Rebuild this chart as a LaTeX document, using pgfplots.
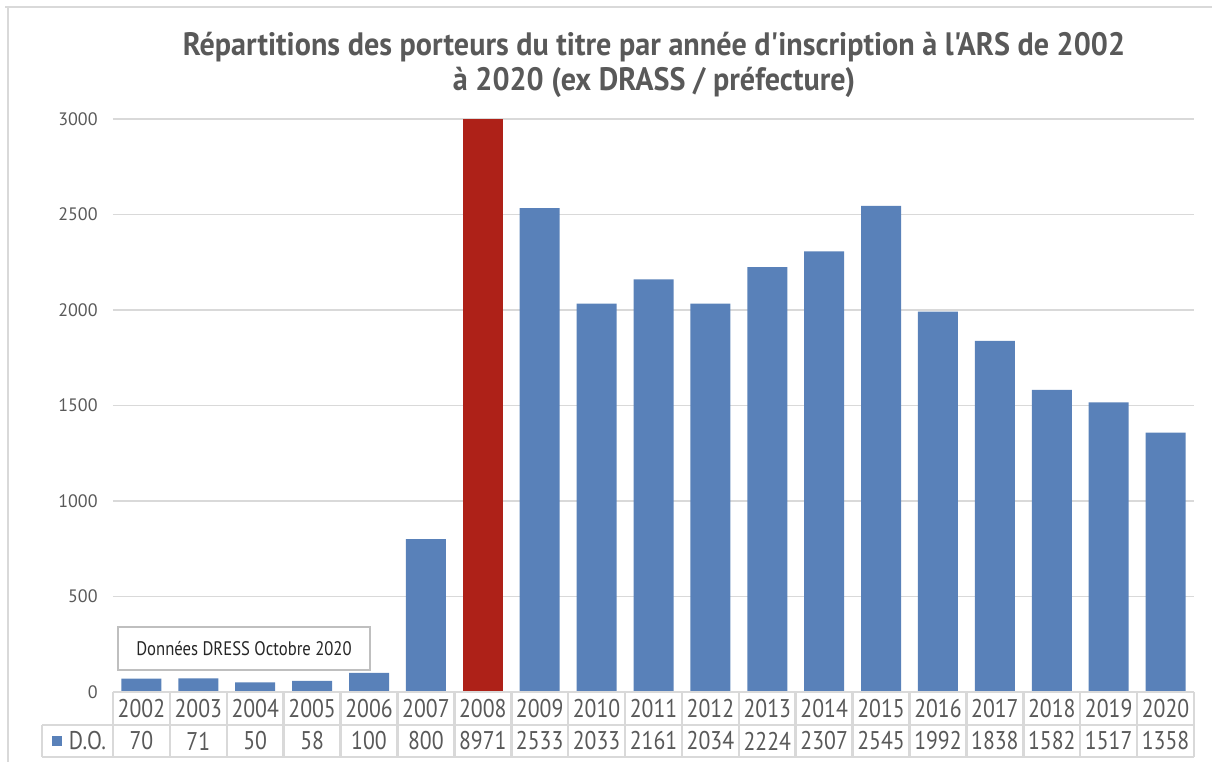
\documentclass[border=0pt]{standalone}
\usepackage{pgfplots}
\pgfplotsset{compat=1.18}
\usepackage{fontspec}
\setmainfont{PT Sans}
\newfontfamily\din{PT Sans}[FakeStretch=0.85]
\newfontfamily\dintitle{PT Sans}[FakeStretch=0.93]

\definecolor{barblue}{HTML}{5981B9}
\definecolor{barred}{HTML}{AE2118}
\definecolor{gridgray}{HTML}{D9D9D9}
\definecolor{txtgray}{HTML}{595959}
\definecolor{boxgray}{HTML}{BFBFBF}

\begin{document}
\begin{tikzpicture}
\path[use as bounding box] (0,0) rectangle (606pt,-381pt);
% chart frame (top and left only)
\draw[gridgray, line width=1.25pt] (2.5pt,-3.5pt) -- (606pt,-3.5pt);
\draw[gridgray, line width=1.25pt] (4pt,-3.5pt) -- (4pt,-381pt);

\begin{axis}[
  at={(56.5pt,-346pt)}, anchor=south west,
  width=540.5pt, height=286.5pt, scale only axis,
  ybar, bar width=20pt,
  xmin=-0.5, xmax=18.5, ymin=0, ymax=3000,
  ytick={0,500,...,3000},
  xtick={0,...,18},
  xticklabels={2002,2003,2004,2005,2006,2007,2008,2009,2010,2011,2012,2013,2014,2015,2016,2017,2018,2019,2020},
  extra x ticks={0,...,18},
  extra x tick labels={70,71,50,58,100,800,8971,2533,2033,2161,2034,2224,2307,2545,1992,1838,1582,1517,1358},
  extra x tick style={xticklabel style={yshift=-16.25pt}},
  xticklabel style={anchor=center, yshift=-8.25pt, inner sep=0pt,
    font=\din\fontsize{12.8}{14}\selectfont, text=txtgray},
  major tick length=0pt,
  ymajorgrids, grid style={gridgray, line width=0.75pt},
  axis line style={draw=none},
  yticklabel style={anchor=east, inner sep=0pt, xshift=-7.5pt,
    font=\fontsize{9}{10}\selectfont, text=txtgray},
  scaled y ticks=false,
  /pgf/number format/assume math mode=true,
  /pgf/number format/1000 sep={},
]
\addplot[fill=barblue, draw=none, bar shift=0pt] coordinates {
  (0,70) (1,71) (2,50) (3,58) (4,100) (5,800)
  (7,2533) (8,2033) (9,2161) (10,2034) (11,2224) (12,2307) (13,2545)
  (14,1992) (15,1838) (16,1582) (17,1517) (18,1358)};
\addplot[fill=barred, draw=none, bar shift=0pt] coordinates {(6,8971)};
\end{axis}

% data table grid
\begin{scope}[gridgray, line width=1.25pt]
\draw (56.5pt,-346pt) -- (597pt,-346pt);
\draw (21pt,-362.5pt) -- (597pt,-362.5pt);
\draw (21pt,-378.5pt) -- (597pt,-378.5pt);
\draw (21pt,-362.5pt) -- (21pt,-378.5pt);
\foreach \k in {0,...,19}
  \draw (56.5pt+\k*28.4474pt,-346pt) -- ++(0,-32.5pt);
\end{scope}
\fill[barblue] (26pt,-368pt) rectangle ++(5pt,-5pt);
\node[font=\din\fontsize{12.8}{14}\selectfont, text=txtgray] at (43.75pt,-370.5pt) {D.O.};

% source box
\draw[boxgray, line width=0.75pt, fill=white] (59pt,-313.5pt) rectangle (185pt,-335pt);
\node[font=\din\fontsize{9.8}{11}\selectfont, text=black!85] at (122pt,-324.25pt) {Données DRESS Octobre 2020};

% title
\node[align=center, font=\dintitle\bfseries\fontsize{16.2}{17.5}\selectfont, text=txtgray]
  at (327pt,-32.25pt) {Répartitions des porteurs du titre par année d'inscription à l'ARS de 2002\\à 2020 (ex DRASS / préfecture)};
\end{tikzpicture}
\end{document}
